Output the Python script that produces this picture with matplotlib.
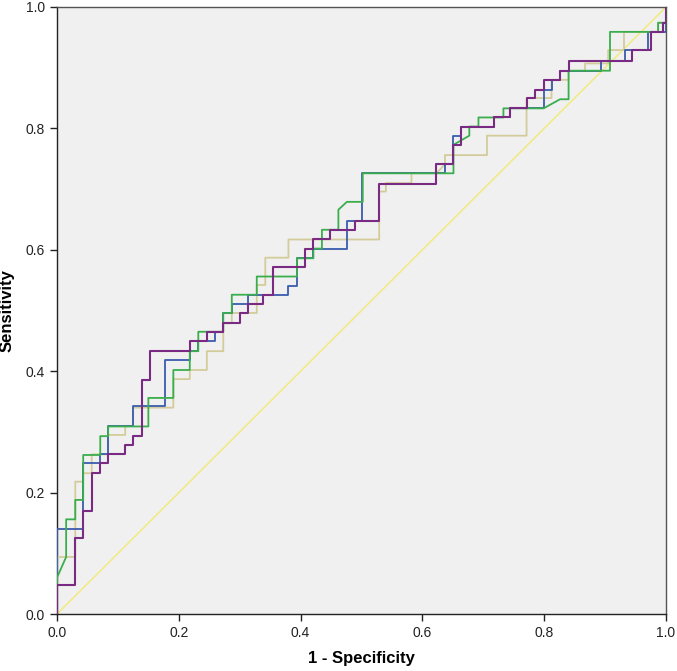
import matplotlib
matplotlib.use("Agg")
import matplotlib.pyplot as plt

# ROC curve vertices (1 - specificity, sensitivity)
beige_fpr = [0, 0, 0.03, 0.03, 0.043, 0.043, 0.057, 0.057, 0.084, 0.084, 0.112, 0.112, 0.125, 0.125,
             0.191, 0.191, 0.218, 0.218, 0.246, 0.246, 0.273, 0.273, 0.287, 0.287, 0.328, 0.328,
             0.342, 0.342, 0.380, 0.380, 0.529, 0.529, 0.540, 0.540, 0.582, 0.582, 0.623, 0.637,
             0.637, 0.706, 0.706, 0.771, 0.771, 0.812, 0.812, 0.840, 0.840, 0.867, 0.867, 0.905,
             0.905, 0.931, 0.931, 0.987, 0.987, 1.0, 1.0]
beige_tpr = [0, 0.094, 0.094, 0.218, 0.218, 0.232, 0.232, 0.263, 0.263, 0.295, 0.295, 0.31, 0.31, 0.340,
             0.340, 0.387, 0.387, 0.402, 0.402, 0.433, 0.433, 0.479, 0.479, 0.496, 0.496, 0.542,
             0.542, 0.587, 0.587, 0.617, 0.617, 0.696, 0.696, 0.710, 0.710, 0.726, 0.726, 0.741,
             0.756, 0.756, 0.788, 0.788, 0.850, 0.850, 0.880, 0.880, 0.895, 0.895, 0.907, 0.907,
             0.929, 0.929, 0.959, 0.959, 0.974, 0.974, 1.0]

blue_fpr = [0, 0, 0.043, 0.043, 0.07, 0.07, 0.084, 0.084, 0.125, 0.125, 0.177, 0.177, 0.218, 0.218,
            0.232, 0.232, 0.259, 0.259, 0.273, 0.273, 0.287, 0.287, 0.314, 0.314, 0.380, 0.380,
            0.394, 0.394, 0.421, 0.421, 0.476, 0.476, 0.500, 0.500, 0.637, 0.637, 0.651, 0.651,
            0.663, 0.663, 0.718, 0.718, 0.744, 0.744, 0.799, 0.799, 0.812, 0.812, 0.826, 0.826,
            0.894, 0.894, 0.933, 0.933, 0.97, 0.97, 1.0, 1.0]
blue_tpr = [0, 0.14, 0.14, 0.248, 0.248, 0.263, 0.263, 0.309, 0.309, 0.342, 0.342, 0.418, 0.418, 0.433,
            0.433, 0.449, 0.449, 0.465, 0.465, 0.496, 0.496, 0.511, 0.511, 0.526, 0.526, 0.540,
            0.540, 0.586, 0.586, 0.602, 0.602, 0.648, 0.648, 0.726, 0.726, 0.741, 0.741, 0.788,
            0.788, 0.803, 0.803, 0.818, 0.818, 0.833, 0.833, 0.864, 0.864, 0.880, 0.880, 0.895,
            0.895, 0.911, 0.911, 0.929, 0.929, 0.959, 0.959, 1.0]

green_fpr = [0, 0, 0.015, 0.015, 0.03, 0.03, 0.043, 0.043, 0.071, 0.071, 0.084, 0.084, 0.150, 0.150,
             0.191, 0.191, 0.218, 0.218, 0.232, 0.232, 0.273, 0.273, 0.287, 0.287, 0.328, 0.328,
             0.394, 0.394, 0.421, 0.421, 0.435, 0.435, 0.462, 0.462, 0.476, 0.502, 0.502, 0.651,
             0.651, 0.677, 0.677, 0.692, 0.692, 0.733, 0.733, 0.799, 0.826, 0.840, 0.840, 0.908,
             0.908, 0.987, 0.987, 1.0, 1.0]
green_tpr = [0, 0.06, 0.094, 0.156, 0.156, 0.188, 0.188, 0.262, 0.262, 0.293, 0.293, 0.309, 0.309, 0.356,
             0.356, 0.402, 0.402, 0.433, 0.433, 0.465, 0.465, 0.496, 0.496, 0.526, 0.526, 0.556,
             0.556, 0.586, 0.586, 0.602, 0.602, 0.633, 0.633, 0.666, 0.679, 0.679, 0.726, 0.726,
             0.773, 0.788, 0.803, 0.803, 0.818, 0.818, 0.833, 0.833, 0.848, 0.848, 0.895, 0.895,
             0.959, 0.959, 0.974, 0.974, 1.0]

purple_fpr = [0, 0, 0.03, 0.03, 0.043, 0.043, 0.057, 0.057, 0.071, 0.071, 0.084, 0.084, 0.112, 0.112,
              0.125, 0.125, 0.139, 0.139, 0.152, 0.152, 0.218, 0.218, 0.246, 0.246, 0.273, 0.273,
              0.30, 0.30, 0.314, 0.314, 0.339, 0.339, 0.354, 0.354, 0.407, 0.407, 0.421, 0.421,
              0.448, 0.448, 0.489, 0.489, 0.529, 0.529, 0.623, 0.623, 0.651, 0.651, 0.663, 0.663,
              0.718, 0.718, 0.744, 0.744, 0.771, 0.771, 0.785, 0.785, 0.799, 0.799, 0.826, 0.826,
              0.840, 0.840, 0.944, 0.944, 0.975, 0.975, 0.995, 0.995, 1.0, 1.0]
purple_tpr = [0, 0.048, 0.048, 0.125, 0.125, 0.17, 0.17, 0.232, 0.232, 0.248, 0.248, 0.263, 0.263, 0.278,
              0.278, 0.293, 0.293, 0.386, 0.386, 0.433, 0.433, 0.449, 0.449, 0.465, 0.465, 0.479,
              0.479, 0.496, 0.496, 0.511, 0.511, 0.526, 0.526, 0.571, 0.571, 0.602, 0.602, 0.617,
              0.617, 0.633, 0.633, 0.648, 0.648, 0.709, 0.709, 0.741, 0.741, 0.773, 0.773, 0.803,
              0.803, 0.818, 0.818, 0.833, 0.833, 0.850, 0.850, 0.864, 0.864, 0.880, 0.880, 0.895,
              0.895, 0.911, 0.911, 0.929, 0.929, 0.959, 0.959, 0.974, 0.974, 1.0]

ref_line = [0, 1]
tick_values = [0.0, 0.2, 0.4, 0.6, 0.8, 1.0]
tick_labels = ["0.0", "0.2", "0.4", "0.6", "0.8", "1.0"]

plt.rcParams['font.family'] = ['Liberation Sans Narrow', 'Liberation Sans', 'DejaVu Sans']

fig = plt.figure(figsize=(6.77, 6.71), dpi=100)
ax = fig.add_axes([0.0842, 0.0849, 0.8996, 0.9047])
ax.set_facecolor('#f0f0f0')

ax.plot(ref_line, ref_line, color='#f2ea7e', lw=1.1, zorder=2)
ax.plot(beige_fpr, beige_tpr, color='#d3cc9a', lw=1.3, zorder=3)
ax.plot(blue_fpr, blue_tpr, color='#3a5cad', lw=1.3, zorder=4)
ax.plot(green_fpr, green_tpr, color='#3aae4c', lw=1.3, zorder=5)
ax.plot(purple_fpr, purple_tpr, color='#7a2a82', lw=1.5, zorder=6)

ax.set_xlim(0, 1)
ax.set_ylim(0, 1)
ax.set_xticks(tick_values)
ax.set_xticklabels(tick_labels)
ax.set_yticks(tick_values)
ax.set_yticklabels(tick_labels)
ax.tick_params(direction='out', length=5, width=1, labelsize=10, colors='#222222')

for side in ['left', 'bottom']:
    ax.spines[side].set_color('#222222')
    ax.spines[side].set_linewidth(1.0)
for side in ['top', 'right']:
    ax.spines[side].set_color('#555555')
    ax.spines[side].set_linewidth(1.0)

ax.set_xlabel('1 - Specificity', fontsize=12, fontweight='bold', labelpad=8)
ax.set_ylabel('Sensitivity', fontsize=12, fontweight='bold', labelpad=8)

fig.savefig('out.png', dpi=100)
